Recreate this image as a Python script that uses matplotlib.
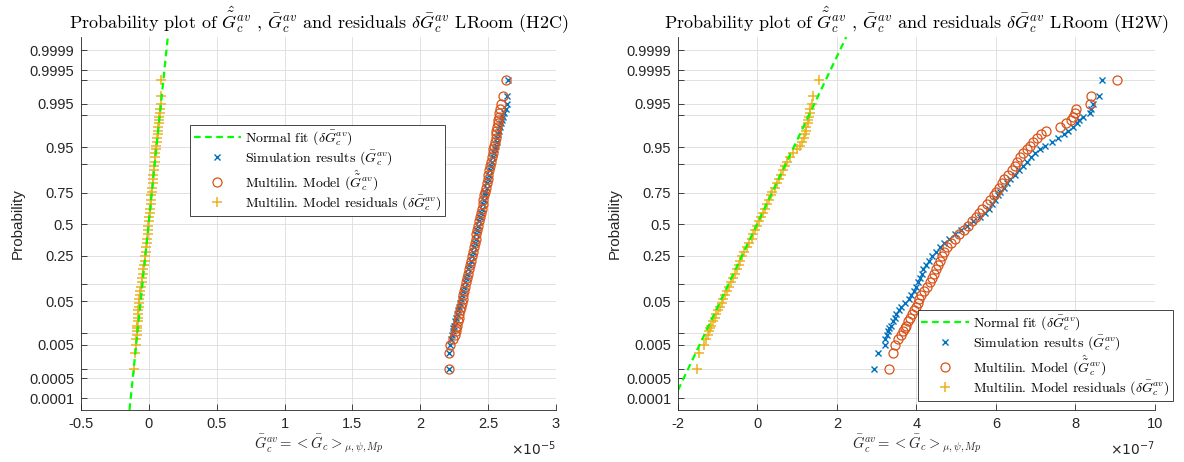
import matplotlib
matplotlib.use('Agg')
import matplotlib.pyplot as plt
import numpy as np
from statistics import NormalDist

plt.rcParams['font.family'] = ['Liberation Sans', 'DejaVu Sans']
plt.rcParams['mathtext.fontset'] = 'dejavusans'

# Stichprobenumfang je Datensatz (normplot: p = (i - 0.5) / n)
n_samples = 500
# dargestellte Raenge der sortierten Stichprobe
ranks = [1, 2, 3, 4, 5, 6, 7, 8, 10, 12, 14, 17, 20, 24, 28, 33, 39, 46, 54, 63,
         73, 84, 96, 109, 125, 140, 156, 173, 190, 208, 226, 244,
         262, 280, 298, 316, 333, 350, 366, 376, 392, 405, 417, 428, 438, 447,
         455, 462, 468, 473, 477, 481, 484, 487, 489, 491, 493, 494, 495, 496,
         497, 498, 499, 500]

# LRoom (H2C), Werte in 1e-5
h2c_sim = [2.209, 2.214, 2.222, 2.228, 2.232, 2.238, 2.243, 2.248, 2.255, 2.262,
           2.268, 2.276, 2.283, 2.291, 2.298, 2.305, 2.313, 2.321, 2.329, 2.337,
           2.346, 2.354, 2.362, 2.370, 2.379, 2.386, 2.394, 2.401, 2.408, 2.414,
           2.421, 2.428,
           2.434, 2.441, 2.448, 2.455, 2.462, 2.469, 2.476, 2.480, 2.488, 2.495,
           2.501, 2.508, 2.515, 2.522, 2.529, 2.536, 2.543, 2.549, 2.555, 2.562,
           2.568, 2.575, 2.580, 2.586, 2.594, 2.600, 2.607, 2.615, 2.628, 2.638,
           2.641, 2.646]
h2c_model = [2.209, 2.215, 2.220, 2.240, 2.255, 2.261, 2.265, 2.269, 2.276, 2.282,
             2.287, 2.294, 2.300, 2.306, 2.312, 2.318, 2.324, 2.331, 2.338, 2.345,
             2.352, 2.359, 2.365, 2.372, 2.380, 2.387, 2.394, 2.400, 2.407, 2.414,
             2.421, 2.428,
             2.434, 2.440, 2.446, 2.453, 2.459, 2.465, 2.472, 2.476, 2.483, 2.490,
             2.496, 2.502, 2.508, 2.515, 2.521, 2.527, 2.533, 2.539, 2.544, 2.550,
             2.555, 2.558, 2.561, 2.565, 2.570, 2.574, 2.578, 2.582, 2.586, 2.592,
             2.609, 2.629]
h2c_resid = [-0.108, -0.105, -0.093, -0.091, -0.088, -0.087, -0.086, -0.085, -0.083,
             -0.081, -0.080, -0.077, -0.074, -0.071, -0.069, -0.065, -0.062, -0.058,
             -0.054, -0.050, -0.046, -0.042, -0.038, -0.030, -0.026, -0.022, -0.019,
             -0.016, -0.013, -0.009, -0.006, -0.003,
             0.001, 0.004, 0.007, 0.010, 0.013, 0.016, 0.019, 0.022, 0.025, 0.028,
             0.031, 0.034, 0.037, 0.040, 0.043, 0.046, 0.049, 0.052, 0.055, 0.058,
             0.061, 0.064, 0.067, 0.071, 0.073, 0.075, 0.078, 0.080, 0.082, 0.089,
             0.090, 0.091]

# LRoom (H2W), Werte in 1e-7
h2w_sim = [2.93, 3.04, 3.20, 3.22, 3.25, 3.28, 3.31, 3.35, 3.40, 3.45, 3.48, 3.55,
           3.62, 3.72, 3.81, 3.87, 3.93, 3.99, 4.04, 4.09, 4.13, 4.17, 4.24, 4.31,
           4.40, 4.48, 4.58, 4.70, 4.83, 4.98, 5.12, 5.28,
           5.42, 5.60, 5.73, 5.82, 5.89, 5.97, 6.06, 6.11, 6.20, 6.28, 6.36, 6.47,
           6.59, 6.69, 6.77, 6.87, 6.98, 7.11, 7.24, 7.42, 7.55, 7.71, 7.80, 7.93,
           8.03, 8.09, 8.20, 8.37, 8.40, 8.45, 8.59, 8.66]
h2w_model = [3.31, 3.41, 3.46, 3.53, 3.60, 3.66, 3.70, 3.74, 3.79, 3.84, 3.88, 3.94,
             3.98, 4.03, 4.07, 4.12, 4.18, 4.26, 4.34, 4.40, 4.44, 4.49, 4.53, 4.58,
             4.64, 4.70, 4.77, 4.86, 4.97, 5.08, 5.19, 5.30,
             5.40, 5.50, 5.58, 5.66, 5.77, 5.85, 5.94, 5.99, 6.07, 6.14, 6.20, 6.30,
             6.41, 6.48, 6.54, 6.61, 6.69, 6.78, 6.85, 6.93, 7.02, 7.14, 7.25, 7.60,
             7.75, 7.88, 7.93, 7.99, 8.02, 8.37, 8.40, 9.05]
h2w_resid = [-1.51, -1.47, -1.34, -1.30, -1.25, -1.22, -1.19, -1.16, -1.12, -1.08,
             -1.05, -1.00, -0.95, -0.90, -0.86, -0.81, -0.77, -0.72, -0.67, -0.61,
             -0.56, -0.52, -0.47, -0.43, -0.39, -0.33, -0.27, -0.21, -0.15, -0.10,
             -0.05, 0.00,
             0.04, 0.09, 0.14, 0.19, 0.24, 0.29, 0.34, 0.37, 0.43, 0.49, 0.55, 0.60,
             0.65, 0.70, 0.75, 0.81, 0.90, 0.99, 1.06, 1.12, 1.16, 1.19, 1.21, 1.23,
             1.26, 1.27, 1.29, 1.31, 1.33, 1.36, 1.40, 1.56]

prob_ticks = [0.0001, 0.0005, 0.001, 0.005, 0.01, 0.05, 0.1, 0.25, 0.5,
              0.75, 0.9, 0.95, 0.99, 0.995, 0.999, 0.9995, 0.9999]
prob_labels = ['0.0001', '0.0005', '', '0.005', '', '0.05', '', '0.25', '0.5',
               '0.75', '', '0.95', '', '0.995', '', '0.9995', '0.9999']

h2c_xticks = [-0.5, 0, 0.5, 1, 1.5, 2, 2.5, 3]
h2w_xticks = [-2, 0, 2, 4, 6, 8, 10]

lbl_fit = r'Normal fit ($\delta\bar{G}_c^{av}$)'
lbl_sim = r'Simulation results ($\bar{G}_c^{av}$)'
lbl_mod = r'Multilin. Model ($\hat{\tilde{G}}_c^{av}$)'
lbl_res = r'Multilin. Model residuals ($\delta\bar{G}_c^{av}$)'
title_tpl = (r'Probability plot of $\hat{\tilde{G}}_c^{av}$ , $\bar{G}_c^{av}$ and '
             r'residuals $\delta\bar{G}_c^{av}$ LRoom (%s)')
xlab = r'$\bar{G}_c^{av} = <\bar{G}_c>_{\mu,\psi,Mp}$'

c_sim = '#0072BD'
c_mod = '#D95319'
c_res = '#EDB120'
c_ax = '#262626'


def probit(p):
    nd = NormalDist()
    return np.array([nd.inv_cdf(x) for x in p])


def probplot(fig, ax, sim, model, resid, scale, expo, xticks, room, leg_pos):
    z = probit([(r - 0.5) / n_samples for r in ranks])
    sim = np.array(sim) * scale
    model = np.array(model) * scale
    resid = np.array(resid) * scale

    h_sim, = ax.plot(sim, z, 'x', color=c_sim, ms=5, mew=1.0, label=lbl_sim)
    h_mod, = ax.plot(model, z, 'o', mfc='none', mec=c_mod, ms=6.5, mew=0.9,
                     label=lbl_mod)
    h_res, = ax.plot(resid, z, '+', color=c_res, ms=7, mew=1.1, label=lbl_res)
    # Gerade durch 1. und 3. Quartil der Residuen
    i1 = ranks.index(125)
    i3 = ranks.index(376)
    h_fit = ax.axline((resid[i1], z[i1]), (resid[i3], z[i3]), color='#00FF00',
                      lw=1.6, ls=(0, (3, 2)), label=lbl_fit)

    ax.set_xlim(xticks[0] * scale, xticks[-1] * scale)
    ax.set_ylim(-3.97, 4.0)
    ax.set_xticks([t * scale for t in xticks], ['%g' % t for t in xticks])
    ax.set_yticks(probit(prob_ticks), prob_labels)
    ax.grid(True, color='#DCDCDC', lw=0.6)
    ax.set_axisbelow(True)
    for s in ['top', 'right']:
        ax.spines[s].set_visible(False)
    for s in ['left', 'bottom']:
        ax.spines[s].set_color(c_ax)
        ax.spines[s].set_linewidth(0.6)
    ax.tick_params(direction='in', length=4, width=0.6, colors=c_ax,
                   labelsize=10.5, pad=5)

    ax.set_title(title_tpl % room, fontsize=13, family='cmr10',
                 math_fontfamily='cm', pad=6)
    ax.set_ylabel('Probability', fontsize=11, color=c_ax, labelpad=3)
    ax.set_xlabel(xlab, fontsize=10.5, math_fontfamily='cm', color=c_ax,
                  labelpad=1)
    ax.text(1.0, -0.08, r'$\times10^{%d}$' % expo, transform=ax.transAxes,
            ha='right', va='top', fontsize=10, color=c_ax)

    leg = ax.legend([h_fit, h_sim, h_mod, h_res],
                    [lbl_fit, lbl_sim, lbl_mod, lbl_res],
                    loc='upper left', bbox_to_anchor=leg_pos,
                    bbox_transform=fig.transFigure, borderaxespad=0,
                    prop={'family': 'cmr10', 'size': 10}, fancybox=False,
                    edgecolor=c_ax, framealpha=1, handlelength=3.4,
                    handletextpad=0.3, labelspacing=0.05, borderpad=0.25)
    leg.get_frame().set_linewidth(0.6)
    for t in leg.get_texts():
        t.set_math_fontfamily('cm')


fig = plt.figure(figsize=(11.84, 4.62), dpi=100)
ax1 = fig.add_axes([0.0684, 0.1126, 0.4012, 0.8074])
ax2 = fig.add_axes([0.5726, 0.1126, 0.4029, 0.8074])

probplot(fig, ax1, h2c_sim, h2c_model, h2c_resid, 1e-5, -5, h2c_xticks, 'H2C',
         (0.1605, 0.7294))
probplot(fig, ax2, h2w_sim, h2w_model, h2w_resid, 1e-7, -7, h2w_xticks, 'H2W',
         (0.7753, 0.3290))

fig.savefig('out.png', dpi=100)
